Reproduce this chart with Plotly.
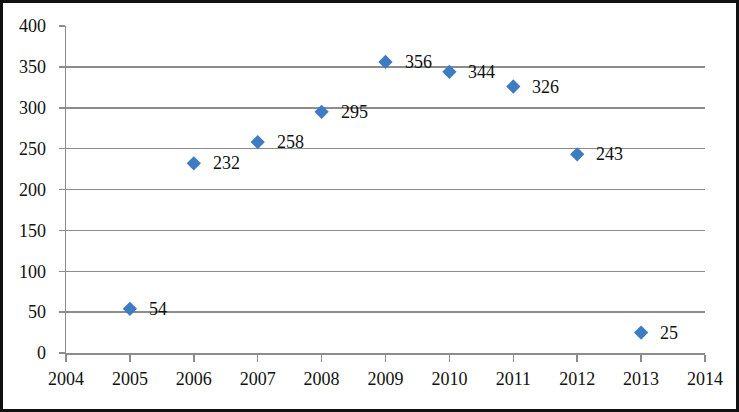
import plotly.graph_objects as go

years = [2005, 2006, 2007, 2008, 2009, 2010, 2011, 2012, 2013]
values = [54, 232, 258, 295, 356, 344, 326, 243, 25]
labels = [str(v) for v in values]

W, H = 739, 412
ml, mr, mt, mb = 66, 34, 26, 59
pw, ph = W - ml - mr, H - mt - mb
FONT = "Liberation Serif, Times New Roman, serif"

fig = go.Figure()
fig.add_trace(go.Scatter(
    x=years, y=values, mode="markers",
    marker=dict(symbol="diamond", size=11, color="#3d7cc2", line=dict(width=0)),
    showlegend=False, hoverinfo="skip",
))
for x, y, t in zip(years, values, labels):
    fig.add_annotation(x=x, y=y, text=t, showarrow=False, xanchor="left",
                       yanchor="middle", xshift=17,
                       font=dict(family=FONT, size=18, color="#111"))

def px_to_paper_x(p):
    return (p - ml) / pw

def px_to_paper_y(p):
    return (H - mb - p) / ph

fig.add_shape(type="rect", xref="paper", yref="paper",
              x0=px_to_paper_x(1.5), x1=px_to_paper_x(737.5),
              y0=px_to_paper_y(410.5), y1=px_to_paper_y(1.5),
              line=dict(color="#111", width=3), layer="above")

fig.update_layout(
    width=W, height=H,
    margin=dict(l=ml, r=mr, t=mt, b=mb),
    paper_bgcolor="white", plot_bgcolor="white",
    font=dict(family=FONT, size=18, color="#111"),
    xaxis=dict(range=[2004, 2014], tickvals=list(range(2004, 2015)),
               showgrid=False, zeroline=False, showline=True,
               linecolor="#8c8c8c", linewidth=1.5,
               ticks="outside", ticklen=7, tickcolor="#8c8c8c", tickwidth=1.5,
               ticklabelstandoff=2),
    yaxis=dict(range=[0, 400], tickvals=list(range(0, 401, 50)),
               showgrid=True, gridcolor="#8c8c8c", gridwidth=1.5,
               zeroline=False, showline=True, linecolor="#8c8c8c", linewidth=1.5,
               ticks="outside", ticklen=6, tickcolor="#8c8c8c", tickwidth=1.5,
               ticklabelstandoff=9),
)
fig.write_html("out.html", config={"displayModeBar": False, "staticPlot": True})
with open("out.html", encoding="utf-8") as f:
    html = f.read()
html = html.replace("<body>", '<body style="margin:0;padding:0;overflow:hidden">', 1)
html = html.replace("<head>", "<head><style>html,body{margin:0;padding:0;}</style>", 1)
with open("out.html", "w", encoding="utf-8") as f:
    f.write(html)
